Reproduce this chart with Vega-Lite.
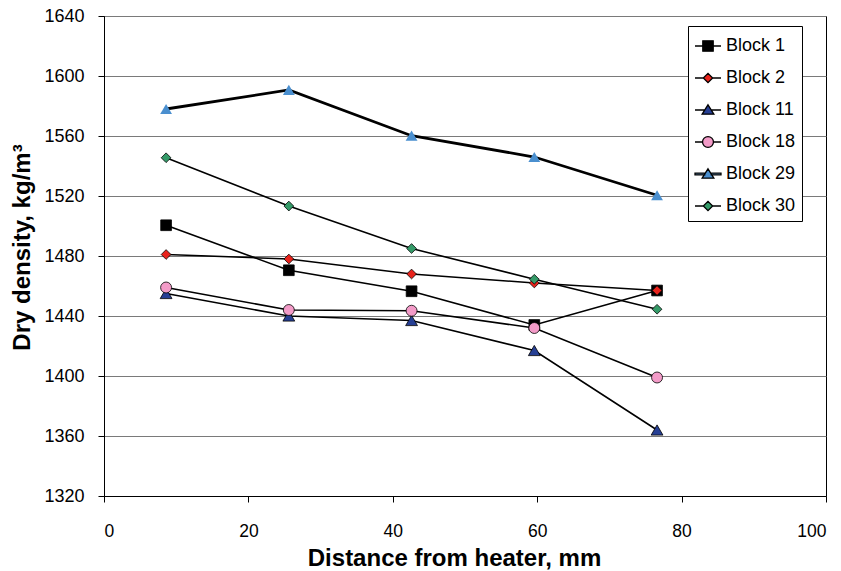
{
  "$schema": "https://vega.github.io/schema/vega-lite/v6.json",
  "width": 722,
  "height": 480,
  "autosize": {"type": "none"},
  "padding": {"left": 104, "top": 16, "right": 15, "bottom": 75},
  "background": "white",
  "config": {
    "font": "Liberation Sans",
    "view": {"stroke": "black", "strokeWidth": 1}
  },
  "data": {
    "values": [
      {"block": "Block 1", "distance": 8.6, "density": 1500.5},
      {"block": "Block 1", "distance": 25.6, "density": 1470.5},
      {"block": "Block 1", "distance": 42.6, "density": 1456.5},
      {"block": "Block 1", "distance": 59.6, "density": 1434},
      {"block": "Block 1", "distance": 76.6, "density": 1457},
      {"block": "Block 2", "distance": 8.6, "density": 1481},
      {"block": "Block 2", "distance": 25.6, "density": 1478},
      {"block": "Block 2", "distance": 42.6, "density": 1468},
      {"block": "Block 2", "distance": 59.6, "density": 1462},
      {"block": "Block 2", "distance": 76.6, "density": 1457},
      {"block": "Block 11", "distance": 8.6, "density": 1455},
      {"block": "Block 11", "distance": 25.6, "density": 1440},
      {"block": "Block 11", "distance": 42.6, "density": 1437},
      {"block": "Block 11", "distance": 59.6, "density": 1417},
      {"block": "Block 11", "distance": 76.6, "density": 1364},
      {"block": "Block 18", "distance": 8.6, "density": 1459},
      {"block": "Block 18", "distance": 25.6, "density": 1444},
      {"block": "Block 18", "distance": 42.6, "density": 1443.5},
      {"block": "Block 18", "distance": 59.6, "density": 1432},
      {"block": "Block 18", "distance": 76.6, "density": 1399},
      {"block": "Block 29", "distance": 8.6, "density": 1578},
      {"block": "Block 29", "distance": 25.6, "density": 1590.7},
      {"block": "Block 29", "distance": 42.6, "density": 1560.2},
      {"block": "Block 29", "distance": 59.6, "density": 1546},
      {"block": "Block 29", "distance": 76.6, "density": 1520.5},
      {"block": "Block 30", "distance": 8.6, "density": 1545.5},
      {"block": "Block 30", "distance": 25.6, "density": 1513.3},
      {"block": "Block 30", "distance": 42.6, "density": 1485},
      {"block": "Block 30", "distance": 59.6, "density": 1464.5},
      {"block": "Block 30", "distance": 76.6, "density": 1444.5}
    ]
  },
  "encoding": {
    "x": {
      "field": "distance",
      "type": "quantitative",
      "scale": {"domain": [0, 100], "nice": false},
      "axis": {
        "values": [0, 20, 40, 60, 80, 100],
        "title": "Distance from heater, mm",
        "grid": false,
        "tickSize": 6,
        "tickColor": "black",
        "domainColor": "black",
        "labelPadding": 20,
        "labelFontSize": 17.5,
        "labelColor": "black",
        "titleFontSize": 24,
        "titleFontWeight": "bold",
        "titleColor": "black",
        "titlePadding": 7,
        "titleX": 350
      }
    },
    "y": {
      "field": "density",
      "type": "quantitative",
      "scale": {"domain": [1320, 1640], "nice": false, "zero": false},
      "axis": {
        "values": [1320, 1360, 1400, 1440, 1480, 1520, 1560, 1600, 1640],
        "format": "d",
        "title": "Dry density, kg/m³",
        "grid": true,
        "gridColor": "#7a7a7a",
        "gridWidth": 1,
        "tickSize": 6,
        "tickColor": "black",
        "domainColor": "black",
        "labelPadding": 14,
        "labelFontSize": 18,
        "labelColor": "black",
        "titleFontSize": 24,
        "titleFontWeight": "bold",
        "titleColor": "black",
        "titlePadding": 9,
        "titleY": 231
      }
    }
  },
  "resolve": {"scale": {"shape": "independent", "color": "independent"}},
  "layer": [
    {
      "mark": {"type": "line", "color": "black"},
      "encoding": {
        "detail": {"field": "block", "type": "nominal"},
        "order": {"field": "distance", "type": "quantitative"},
        "strokeWidth": {
          "condition": {"test": "datum.block === 'Block 29'", "value": 2.8},
          "value": 1.6
        }
      }
    },
    {
      "mark": {"type": "point", "filled": true, "stroke": "black", "opacity": 1},
      "encoding": {
        "color": {
          "field": "block",
          "type": "nominal",
          "scale": {
            "domain": ["Block 1", "Block 2", "Block 11", "Block 18", "Block 29", "Block 30"],
            "range": ["#000000", "#e8231c", "#263f94", "#f39bc8", "#4a8fcf", "#349a68"]
          },
          "legend": null
        },
        "shape": {
          "field": "block",
          "type": "nominal",
          "scale": {
            "domain": ["Block 1", "Block 2", "Block 11", "Block 18", "Block 29", "Block 30"],
            "range": ["square", "diamond", "triangle-up", "circle", "triangle-up", "diamond"]
          },
          "legend": null
        },
        "size": {
          "condition": [
            {"test": "datum.block === 'Block 1'", "value": 115},
            {"test": "datum.block === 'Block 2' || datum.block === 'Block 30'", "value": 95},
            {"test": "datum.block === 'Block 18'", "value": 120}
          ],
          "value": 140
        },
        "strokeWidth": {
          "condition": {"test": "datum.block === 'Block 29'", "value": 0},
          "value": 0.8
        }
      }
    },
    {
      "transform": [{"filter": "datum.distance < 0"}],
      "mark": {"type": "point", "filled": true, "stroke": "black", "opacity": 1},
      "encoding": {
        "color": {
          "field": "block",
          "type": "nominal",
          "scale": {
            "domain": ["Block 1", "Block 2", "Block 11", "Block 18", "Block 29", "Block 30"],
            "range": ["#000000", "#e8231c", "#263f94", "#f39bc8", "#4a8fcf", "#349a68"]
          },
          "legend": {
            "title": null,
            "orient": "none",
            "legendX": 584,
            "legendY": 10,
            "padding": 6,
            "fillColor": "white",
            "strokeColor": "black",
            "symbolSize": 676,
            "symbolStrokeWidth": 1.3,
            "symbolStrokeColor": "black",
            "labelFontSize": 18,
            "labelColor": "black",
            "labelOffset": 4,
            "rowPadding": 9,
            "labelLimit": 200,
            "encode": {
              "symbols": {
                "update": {
                  "stroke": {"value": "black"},
                  "strokeWidth": {"value": 1.3},
                  "opacity": {"value": 1}
                }
              }
            }
          }
        },
        "shape": {
          "field": "block",
          "type": "nominal",
          "scale": {
            "domain": ["Block 1", "Block 2", "Block 11", "Block 18", "Block 29", "Block 30"],
            "range": [
              "M-1,0H-0.4M0.4,0H1M-0.4,-0.4H0.4V0.4H-0.4Z",
              "M-1,0H-0.36M0.36,0H1M-0.36,0L0,-0.36L0.36,0L0,0.36Z",
              "M-1,0H-0.25M0.25,0H1M0,-0.4L0.45,0.32L-0.45,0.32Z",
              "M-1,0H-0.42M0.42,0H1M-0.42,0A0.42,0.42,0,1,1,0.42,0A0.42,0.42,0,1,1,-0.42,0Z",
              "M-1,-0.06H-0.25V0.06H-1ZM0.25,-0.06H1V0.06H0.25ZM0,-0.4L0.45,0.32L-0.45,0.32Z",
              "M-1,0H-0.36M0.36,0H1M-0.36,0L0,-0.36L0.36,0L0,0.36Z"
            ]
          },
          "legend": {
            "title": null,
            "orient": "none",
            "legendX": 584,
            "legendY": 10,
            "padding": 6,
            "fillColor": "white",
            "strokeColor": "black",
            "symbolSize": 676,
            "symbolStrokeWidth": 1.3,
            "symbolStrokeColor": "black",
            "labelFontSize": 18,
            "labelColor": "black",
            "labelOffset": 4,
            "rowPadding": 9,
            "labelLimit": 200,
            "encode": {
              "symbols": {
                "update": {
                  "stroke": {"value": "black"},
                  "strokeWidth": {"value": 1.3},
                  "opacity": {"value": 1}
                }
              }
            }
          }
        }
      }
    }
  ]
}
